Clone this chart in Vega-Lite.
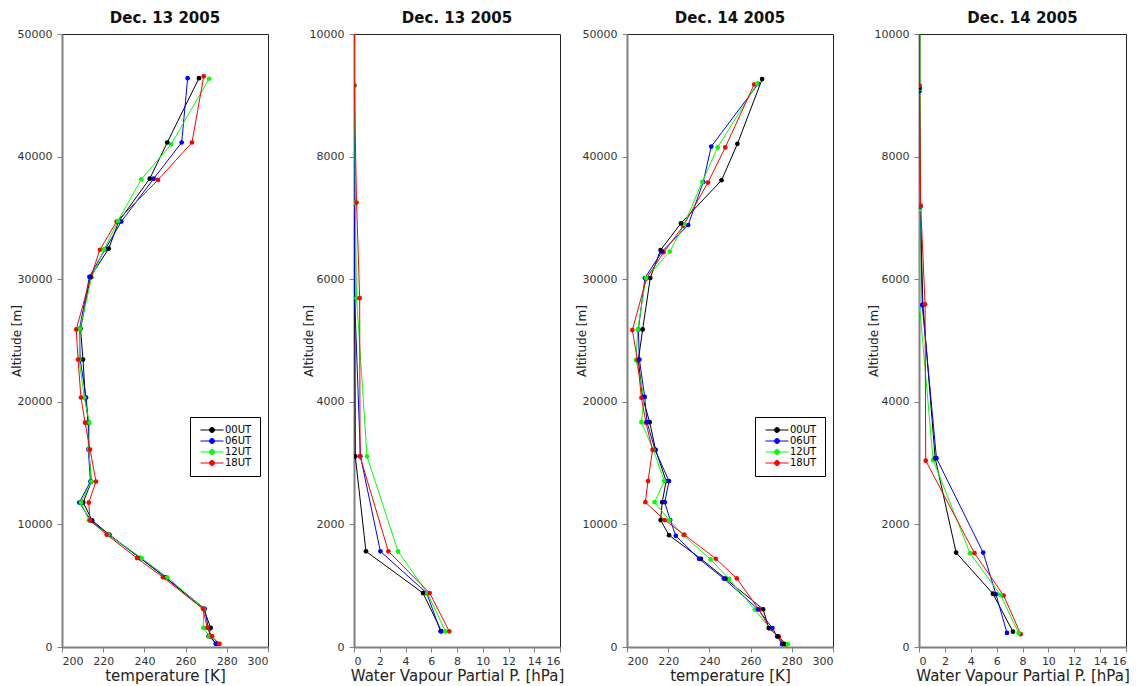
{
  "$schema": "https://vega.github.io/schema/vega-lite/v6.json",
  "padding": {"left": 9, "top": 10, "right": 5, "bottom": 2},
  "background": "white",
  "datasets": {
    "day13": [
      {"t":"00UT","alt":46400,"T":266.5},{"t":"06UT","alt":46400,"T":261},{"t":"12UT","alt":46350,"T":271.4},{"t":"18UT","alt":46550,"T":268.8},
      {"t":"00UT","alt":41150,"T":251.1},{"t":"06UT","alt":41150,"T":258.1},{"t":"12UT","alt":41000,"T":253},{"t":"18UT","alt":41150,"T":263.1},
      {"t":"00UT","alt":38200,"T":242.6},{"t":"06UT","alt":38200,"T":244.5},{"t":"12UT","alt":38150,"T":238.5},{"t":"18UT","alt":38100,"T":246.6},
      {"t":"00UT","alt":34700,"T":227.5},{"t":"06UT","alt":34700,"T":228.8},{"t":"12UT","alt":34750,"T":227.2},{"t":"18UT","alt":34700,"T":226.5},
      {"t":"00UT","alt":32500,"T":222.7},{"t":"06UT","alt":32450,"T":221},{"t":"12UT","alt":32450,"T":220.5},{"t":"18UT","alt":32400,"T":218.4},
      {"t":"00UT","alt":30200,"T":213.8},{"t":"06UT","alt":30200,"T":213.3},{"t":"12UT","alt":30150,"T":214.4},{"t":"18UT","alt":30150,"T":213.9},
      {"t":"00UT","alt":25950,"T":209},{"t":"06UT","alt":25950,"T":208.5},{"t":"12UT","alt":25950,"T":208.7},{"t":"18UT","alt":25900,"T":206.9},
      {"t":"00UT","alt":23450,"T":210.2},{"t":"06UT","alt":23450,"T":208.8},{"t":"12UT","alt":23450,"T":208.3},{"t":"18UT","alt":23450,"T":207.8},
      {"t":"00UT","alt":20350,"T":211.3},{"t":"06UT","alt":20350,"T":211.7},{"t":"12UT","alt":20350,"T":210.8},{"t":"18UT","alt":20350,"T":209.2},
      {"t":"00UT","alt":18300,"T":212.8},{"t":"06UT","alt":18300,"T":212.8},{"t":"12UT","alt":18300,"T":213.3},{"t":"18UT","alt":18300,"T":211.2},
      {"t":"00UT","alt":16100,"T":213},{"t":"06UT","alt":16100,"T":212.8},{"t":"12UT","alt":16100,"T":213},{"t":"18UT","alt":16100,"T":213.6},
      {"t":"00UT","alt":13500,"T":214.2},{"t":"06UT","alt":13500,"T":213.8},{"t":"12UT","alt":13500,"T":214.2},{"t":"18UT","alt":13500,"T":216.5},
      {"t":"00UT","alt":11780,"T":210.3},{"t":"06UT","alt":11780,"T":208.4},{"t":"12UT","alt":11780,"T":209.2},{"t":"18UT","alt":11780,"T":213},
      {"t":"00UT","alt":10330,"T":214.6,"v":0.02},{"t":"06UT","alt":10330,"T":214,"v":0.02},{"t":"12UT","alt":10330,"T":213.1,"v":0.05},{"t":"18UT","alt":10330,"T":213.6,"v":0.03},
      {"t":"00UT","alt":9160,"T":223,"v":0.0},{"t":"06UT","alt":9160,"T":222.5,"v":0.0},{"t":"12UT","alt":9160,"T":222.5,"v":0.05},{"t":"18UT","alt":9160,"T":221.7,"v":0.02},
      {"t":"00UT","alt":7250,"T":238,"v":0.0},{"t":"06UT","alt":7250,"T":238,"v":0.05},{"t":"12UT","alt":7250,"T":238.7,"v":0.1},{"t":"18UT","alt":7250,"T":236.4,"v":0.2},
      {"t":"00UT","alt":5690,"T":250,"v":0.05},{"t":"06UT","alt":5690,"T":250.3,"v":0.05},{"t":"12UT","alt":5690,"T":251.1,"v":0.2},{"t":"18UT","alt":5690,"T":249,"v":0.44},
      {"t":"00UT","alt":3110,"T":268.8,"v":0.1},{"t":"06UT","alt":3110,"T":269.3,"v":0.5},{"t":"12UT","alt":3110,"T":268.8,"v":1.01},{"t":"18UT","alt":3110,"T":268.4,"v":0.47},
      {"t":"00UT","alt":1560,"T":272.2,"v":0.93},{"t":"06UT","alt":1560,"T":271,"v":2.05},{"t":"12UT","alt":1560,"T":268.6,"v":3.42},{"t":"18UT","alt":1560,"T":270.5,"v":2.67},
      {"t":"00UT","alt":880,"T":271.2,"v":5.36},{"t":"06UT","alt":880,"T":272,"v":5.65},{"t":"12UT","alt":880,"T":271.5,"v":5.7},{"t":"18UT","alt":880,"T":272.8,"v":5.88},
      {"t":"00UT","alt":255,"T":275.3,"v":6.8},{"t":"06UT","alt":255,"T":274.6,"v":6.72},{"t":"12UT","alt":255,"T":276.8,"v":7.1},{"t":"18UT","alt":255,"T":276.2,"v":7.4}
    ],
    "day14": [
      {"t":"00UT","alt":46320,"T":265.6},{"t":"06UT","alt":45930,"T":263.7},{"t":"12UT","alt":45950,"T":263.2},{"t":"18UT","alt":45880,"T":261.7},
      {"t":"00UT","alt":41040,"T":253.6},{"t":"06UT","alt":40820,"T":240.9},{"t":"12UT","alt":40750,"T":244},{"t":"18UT","alt":40750,"T":247.7},
      {"t":"00UT","alt":38070,"T":245.9},{"t":"06UT","alt":37930,"T":237},{"t":"12UT","alt":37930,"T":236.5},{"t":"18UT","alt":37880,"T":239.3},
      {"t":"00UT","alt":34560,"T":226.2},{"t":"06UT","alt":34420,"T":229.7},{"t":"12UT","alt":34500,"T":227.8},{"t":"18UT","alt":34340,"T":227.3},
      {"t":"00UT","alt":32380,"T":216.3},{"t":"06UT","alt":32250,"T":217},{"t":"12UT","alt":32250,"T":220.8},{"t":"18UT","alt":32200,"T":217.8},
      {"t":"00UT","alt":30100,"T":211.3},{"t":"06UT","alt":30100,"T":208.7},{"t":"12UT","alt":30100,"T":209.2},{"t":"18UT","alt":30050,"T":209.4},
      {"t":"00UT","alt":25900,"T":207.6},{"t":"06UT","alt":25880,"T":205.5},{"t":"12UT","alt":25880,"T":205.2},{"t":"18UT","alt":25850,"T":202.6},
      {"t":"00UT","alt":23400,"T":205.5},{"t":"06UT","alt":23450,"T":206},{"t":"12UT","alt":23400,"T":204.4},{"t":"18UT","alt":23400,"T":205.1},
      {"t":"00UT","alt":20330,"T":207.6},{"t":"06UT","alt":20400,"T":208.6},{"t":"12UT","alt":20330,"T":208.3},{"t":"18UT","alt":20330,"T":207},
      {"t":"00UT","alt":18340,"T":211},{"t":"06UT","alt":18340,"T":209.7},{"t":"12UT","alt":18340,"T":207},{"t":"18UT","alt":18300,"T":209.2},
      {"t":"00UT","alt":16080,"T":213.9},{"t":"06UT","alt":16080,"T":213.6},{"t":"12UT","alt":16080,"T":212.8},{"t":"18UT","alt":16080,"T":212.4},
      {"t":"00UT","alt":13530,"T":219},{"t":"06UT","alt":13530,"T":220.4},{"t":"12UT","alt":13530,"T":218.1},{"t":"18UT","alt":13530,"T":210.2},
      {"t":"00UT","alt":11810,"T":217.1},{"t":"06UT","alt":11810,"T":218.3},{"t":"12UT","alt":11810,"T":213.4},{"t":"18UT","alt":11810,"T":208.9},
      {"t":"00UT","alt":10350,"T":216.3,"v":0.05},{"t":"06UT","alt":10350,"T":221,"v":0.05},{"t":"12UT","alt":10350,"T":220.5,"v":0.08},{"t":"18UT","alt":10350,"T":218.3,"v":0.05},
      {"t":"00UT","alt":9120,"T":220.4,"v":0.03},{"t":"06UT","alt":9070,"T":223.7,"v":0.05},{"t":"12UT","alt":9110,"T":227.4,"v":0.08},{"t":"18UT","alt":9160,"T":227.8,"v":0.05},
      {"t":"00UT","alt":7190,"T":235.9,"v":0.1},{"t":"06UT","alt":7190,"T":235,"v":0.1},{"t":"12UT","alt":7140,"T":240.6,"v":0.08},{"t":"18UT","alt":7200,"T":243.1,"v":0.13},
      {"t":"00UT","alt":5580,"T":247.8,"v":0.3},{"t":"06UT","alt":5580,"T":247,"v":0.25},{"t":"12UT","alt":5550,"T":249.6,"v":0.05},{"t":"18UT","alt":5590,"T":253.3,"v":0.47},
      {"t":"00UT","alt":3080,"T":266.1,"v":1.25},{"t":"06UT","alt":3080,"T":263.6,"v":1.35},{"t":"12UT","alt":3050,"T":262,"v":1.09},{"t":"18UT","alt":3040,"T":264.1,"v":0.52},
      {"t":"00UT","alt":1540,"T":268.8,"v":2.87},{"t":"06UT","alt":1540,"T":270.6,"v":4.96},{"t":"12UT","alt":1530,"T":269.4,"v":3.95},{"t":"18UT","alt":1530,"T":269.2,"v":4.29},
      {"t":"00UT","alt":870,"T":273.2,"v":5.71},{"t":"06UT","alt":860,"T":272.9,"v":5.95},{"t":"12UT","alt":850,"T":273,"v":6.3},{"t":"18UT","alt":840,"T":273.7,"v":6.54},
      {"t":"00UT","alt":250,"T":276,"v":7.26},{"t":"06UT","alt":230,"T":275.3,"v":6.8},{"t":"12UT","alt":230,"T":278,"v":7.7},{"t":"18UT","alt":210,"T":277.1,"v":7.86}
    ]
  },
  "spacing": 9,
  "resolve": {"legend": {"color": "independent"}},
  "hconcat": [
    {
      "bounds": "flush",
      "spacing": 86,
      "resolve": {"legend": {"color": "independent"}},
      "hconcat": [
        {
          "title": "Dec. 13 2005",
          "width": 206, "height": 613,
          "data": {"name": "day13"},
          "encoding": {
            "x": {"field": "T", "type": "quantitative", "scale": {"domain": [200, 300], "nice": false, "zero": false}, "axis": {"values": [200, 220, 240, 260, 280, 300], "title": "temperature [K]"}},
            "y": {"field": "alt", "type": "quantitative", "scale": {"domain": [0, 50000], "nice": false}, "axis": {"values": [0, 10000, 20000, 30000, 40000, 50000], "format": "d", "title": "Altitude [m]"}},
            "color": {"field": "t", "type": "nominal", "scale": {"domain": ["00UT", "06UT", "12UT", "18UT"], "range": ["#000000", "#0000ff", "#00ff00", "#ff0000"]},
              "legend": {"title": null, "orient": "none", "legendX": 128, "legendY": 383, "padding": 8, "strokeColor": "#000000", "fillColor": "#ffffff", "symbolType": "M-1,0H8.2M2.6,0A1,1,0,1,1,4.6,0A1,1,0,1,1,2.6,0Z", "symbolSize": 25, "symbolStrokeWidth": 1, "symbolOpacity": 1, "labelFontSize": 10, "labelOffset": 17, "rowPadding": 1, "labelColor": "#000000",
                "encode": {"symbols": {"update": {"fill": {"scale": "color", "field": "value"}, "stroke": {"scale": "color", "field": "value"}}}}}},
            "order": {"field": "alt", "type": "quantitative"}
          },
          "layer": [
            {"mark": {"type": "line", "strokeWidth": 1, "clip": true}},
            {"mark": {"type": "point", "filled": true, "size": 22, "opacity": 1, "clip": true}}
          ]
        },
        {
          "title": "Dec. 13 2005",
          "width": 206, "height": 613,
          "data": {"name": "day13"},
          "transform": [{"filter": {"field": "v", "valid": true}}],
          "encoding": {
            "x": {"field": "v", "type": "quantitative", "scale": {"domain": [0, 16], "nice": false}, "axis": {"values": [0, 2, 4, 6, 8, 10, 12, 14, 16], "title": "Water Vapour Partial P. [hPa]"}},
            "y": {"field": "alt", "type": "quantitative", "scale": {"domain": [0, 10000], "nice": false}, "axis": {"values": [0, 2000, 4000, 6000, 8000, 10000], "format": "d", "title": "Altitude [m]"}},
            "color": {"field": "t", "type": "nominal", "scale": {"domain": ["00UT", "06UT", "12UT", "18UT"], "range": ["#000000", "#0000ff", "#00ff00", "#ff0000"]}, "legend": null},
            "order": {"field": "alt", "type": "quantitative"}
          },
          "layer": [
            {"mark": {"type": "line", "strokeWidth": 1, "clip": true}},
            {"mark": {"type": "point", "filled": true, "size": 22, "opacity": 1, "clip": true}}
          ]
        }
      ]
    },
    {
      "bounds": "flush",
      "spacing": 86,
      "resolve": {"legend": {"color": "independent"}},
      "hconcat": [
        {
          "title": "Dec. 14 2005",
          "width": 206, "height": 613,
          "data": {"name": "day14"},
          "encoding": {
            "x": {"field": "T", "type": "quantitative", "scale": {"domain": [200, 300], "nice": false, "zero": false}, "axis": {"values": [200, 220, 240, 260, 280, 300], "title": "temperature [K]"}},
            "y": {"field": "alt", "type": "quantitative", "scale": {"domain": [0, 50000], "nice": false}, "axis": {"values": [0, 10000, 20000, 30000, 40000, 50000], "format": "d", "title": "Altitude [m]"}},
            "color": {"field": "t", "type": "nominal", "scale": {"domain": ["00UT", "06UT", "12UT", "18UT"], "range": ["#000000", "#0000ff", "#00ff00", "#ff0000"]},
              "legend": {"title": null, "orient": "none", "legendX": 128, "legendY": 383, "padding": 8, "strokeColor": "#000000", "fillColor": "#ffffff", "symbolType": "M-1,0H8.2M2.6,0A1,1,0,1,1,4.6,0A1,1,0,1,1,2.6,0Z", "symbolSize": 25, "symbolStrokeWidth": 1, "symbolOpacity": 1, "labelFontSize": 10, "labelOffset": 17, "rowPadding": 1, "labelColor": "#000000",
                "encode": {"symbols": {"update": {"fill": {"scale": "color", "field": "value"}, "stroke": {"scale": "color", "field": "value"}}}}}},
            "order": {"field": "alt", "type": "quantitative"}
          },
          "layer": [
            {"mark": {"type": "line", "strokeWidth": 1, "clip": true}},
            {"mark": {"type": "point", "filled": true, "size": 22, "opacity": 1, "clip": true}}
          ]
        },
        {
          "title": "Dec. 14 2005",
          "width": 207, "height": 613,
          "data": {"name": "day14"},
          "transform": [{"filter": {"field": "v", "valid": true}}],
          "encoding": {
            "x": {"field": "v", "type": "quantitative", "scale": {"domain": [0, 16], "nice": false}, "axis": {"values": [0, 2, 4, 6, 8, 10, 12, 14, 16], "title": "Water Vapour Partial P. [hPa]"}},
            "y": {"field": "alt", "type": "quantitative", "scale": {"domain": [0, 10000], "nice": false}, "axis": {"values": [0, 2000, 4000, 6000, 8000, 10000], "format": "d", "title": "Altitude [m]"}},
            "color": {"field": "t", "type": "nominal", "scale": {"domain": ["00UT", "06UT", "12UT", "18UT"], "range": ["#000000", "#0000ff", "#00ff00", "#ff0000"]}, "legend": null},
            "order": {"field": "alt", "type": "quantitative"}
          },
          "layer": [
            {"mark": {"type": "line", "strokeWidth": 1, "clip": true}},
            {"mark": {"type": "point", "filled": true, "size": 22, "opacity": 1, "clip": true}}
          ]
        }
      ]
    }
  ],
  "config": {
    "font": "DejaVu Sans",
    "view": {"stroke": "#222222", "strokeWidth": 1},
    "axis": {"domainColor": "#808080", "domainWidth": 2, "tickColor": "#808080", "tickSize": 5, "tickWidth": 1, "grid": false, "labelFont": "DejaVu Sans", "labelFontSize": 11, "labelColor": "#333333", "titleFont": "DejaVu Sans", "titleFontWeight": "normal", "titleColor": "#222222", "labelPadding": 5},
    "axisX": {"titleFontSize": 15, "labelPadding": 3, "titlePadding": 2},
    "axisY": {"titleFontSize": 12, "titlePadding": -6},
    "title": {"font": "DejaVu Sans", "fontSize": 15, "fontWeight": "bold", "frame": "group", "anchor": "middle", "offset": 2, "baseline": "alphabetic", "color": "#111111"},
    "legend": {"labelFont": "DejaVu Sans"}
  }
}
